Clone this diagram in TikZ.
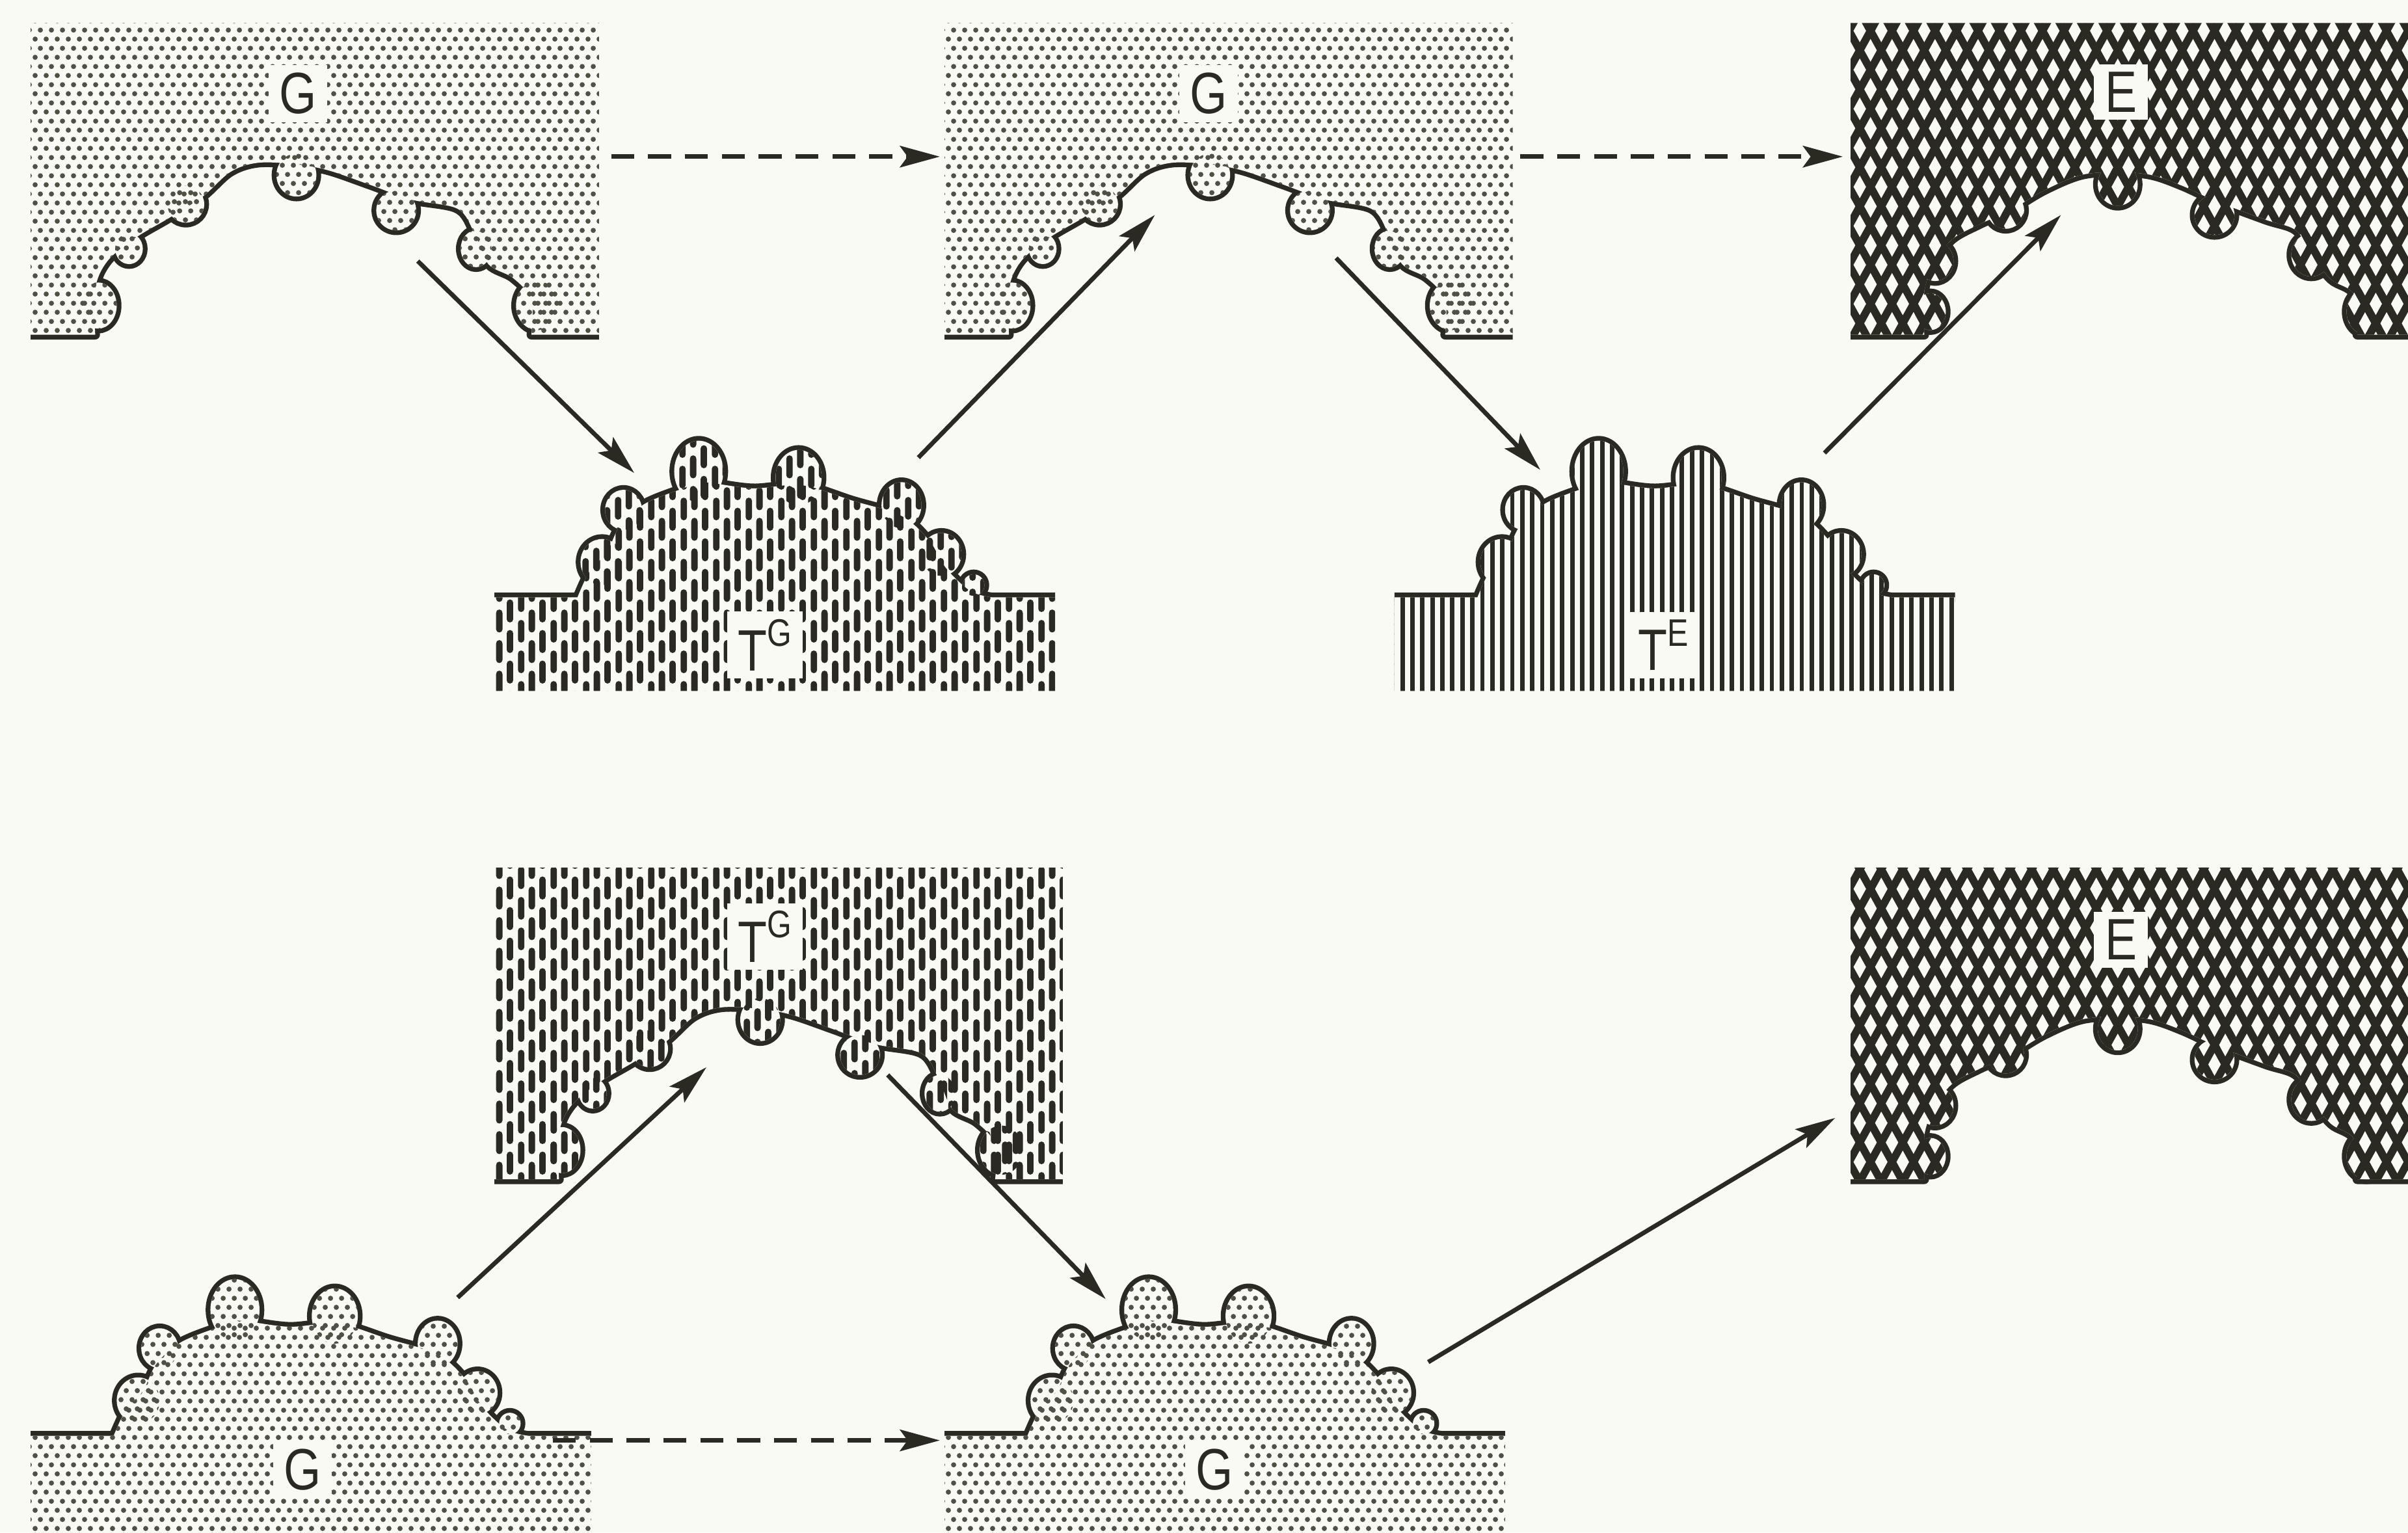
\documentclass[tikz,border=0pt]{standalone}
\usepackage{fontspec}
\setmainfont{Liberation Sans}
\usepackage{graphicx}
\usetikzlibrary{patterns,arrows.meta}
\definecolor{ink}{RGB}{42,42,34}
\definecolor{inkg}{RGB}{80,80,70}
\definecolor{paper}{RGB}{250,250,244}

% light stipple for G
\pgfdeclarepatternformonly{gstip}{\pgfpointorigin}{\pgfpoint{7pt}{12pt}}{\pgfpoint{7pt}{12pt}}{%
  \pgfpathcircle{\pgfpoint{1.75pt}{3pt}}{1.7pt}%
  \pgfpathcircle{\pgfpoint{5.25pt}{9pt}}{1.7pt}%
  \pgfusepath{fill}}
% staggered vertical dashes for T^G
\pgfdeclarepatternformonly{tgdash}{\pgfpointorigin}{\pgfpoint{21pt}{20pt}}{\pgfpoint{21pt}{20pt}}{%
  \pgfsetlinewidth{4.2pt}\pgfsetroundcap
  \pgfpathmoveto{\pgfpoint{3.5pt}{2.1pt}}\pgfpathlineto{\pgfpoint{3.5pt}{12.9pt}}%
  \pgfpathmoveto{\pgfpoint{10.5pt}{8.77pt}}\pgfpathlineto{\pgfpoint{10.5pt}{19.57pt}}%
  \pgfpathmoveto{\pgfpoint{10.5pt}{-11.23pt}}\pgfpathlineto{\pgfpoint{10.5pt}{-0.43pt}}%
  \pgfpathmoveto{\pgfpoint{17.5pt}{15.43pt}}\pgfpathlineto{\pgfpoint{17.5pt}{26.23pt}}%
  \pgfpathmoveto{\pgfpoint{17.5pt}{-4.57pt}}\pgfpathlineto{\pgfpoint{17.5pt}{6.23pt}}%
  \pgfusepath{stroke}}
% vertical lines for T^E
\pgfdeclarepatternformonly{tevl}{\pgfpoint{0pt}{-0.5pt}}{\pgfpoint{6.5pt}{7pt}}{\pgfpoint{6.5pt}{6.5pt}}{%
  \pgfpathrectangle{\pgfpoint{1.8pt}{-0.5pt}}{\pgfpoint{2.9pt}{7.5pt}}%
  \pgfusepath{fill}}
% mesh with diamond holes for E
\pgfdeclarepatternformonly{meshE}{\pgfpoint{-3pt}{-3pt}}{\pgfpoint{17pt}{28.4pt}}{\pgfpoint{14pt}{25.4pt}}{%
  \pgfsetlinewidth{5pt}\pgfsetroundjoin
  \pgfpathmoveto{\pgfpoint{7pt}{0pt}}\pgfpathlineto{\pgfpoint{14pt}{12.7pt}}%
  \pgfpathlineto{\pgfpoint{7pt}{25.4pt}}\pgfpathlineto{\pgfpoint{0pt}{12.7pt}}\pgfpathclose
  \pgfusepath{stroke}}

\newcommand{\labfont}{\fontsize{38}{40}\selectfont}
\newcommand{\supfont}{\fontsize{25}{26}\selectfont}
\newcommand{\nrw}[1]{\scalebox{0.82}[1]{#1}}

\tikzset{
  outl/.style={draw=ink, line width=6.2pt, line join=round},
  pG/.style={pattern=gstip, pattern color=inkg},
  pTG/.style={pattern=tgdash, pattern color=ink},
  pTE/.style={pattern=tevl, pattern color=ink},
  pE/.style={pattern=meshE, pattern color=ink},
  lab/.style={fill=paper, text=ink, inner xsep=7pt, inner ysep=5pt, font=\labfont},
  arr/.style={draw=ink, line width=2.9pt, -{Stealth[length=26pt,width=14pt,inset=5pt]}},
  darr/.style={arr, dash pattern=on 15pt off 9pt},
}

% arch (receptor) shape: #1 shift, #2 pattern style, #3 hole boundary, #4 lobes
\newcommand{\drawArch}[4]{%
\begin{scope}[shift={#1}]
\draw[outl] (20,218) -- plot[smooth,tension=0.55] coordinates {#3} -- (390,218);
\foreach \cx/\cy/\rx/\ry in {#4}{\draw[outl] (\cx,\cy) ellipse[x radius=\rx, y radius=\ry];}
\fill[paper] (390,218) -- (390,15) -- (20,15) -- (20,218) -- plot[smooth,tension=0.55] coordinates {#3} -- cycle;
\foreach \cx/\cy/\rx/\ry in {#4}{\fill[paper] (\cx,\cy) ellipse[x radius=\rx, y radius=\ry];}
\path[#2] (390,218) -- (390,15) -- (20,15) -- (20,218) -- plot[smooth,tension=0.55] coordinates {#3} -- cycle;
\foreach \cx/\cy/\rx/\ry in {#4}{\path[#2] (\cx,\cy) ellipse[x radius=\rx, y radius=\ry];}
\end{scope}}

% mound shape: #1 shift, #2 pattern style, #3 bottom, #4 profile, #5 lobes
\newcommand{\drawMound}[5]{%
\begin{scope}[shift={#1}]
\draw[outl] (322,389) -- plot[smooth,tension=0.55] coordinates {#4} -- (687,389);
\foreach \cx/\cy/\rx/\ry in {#5}{\draw[outl] (\cx,\cy) ellipse[x radius=\rx, y radius=\ry];}
\fill[paper] (322,#3) -- (322,389) -- plot[smooth,tension=0.55] coordinates {#4} -- (687,389) -- (687,#3) -- cycle;
\foreach \cx/\cy/\rx/\ry in {#5}{\fill[paper] (\cx,\cy) ellipse[x radius=\rx, y radius=\ry];}
\path[#2] (322,#3) -- (322,389) -- plot[smooth,tension=0.55] coordinates {#4} -- (687,389) -- (687,#3) -- cycle;
\foreach \cx/\cy/\rx/\ry in {#5}{\path[#2] (\cx,\cy) ellipse[x radius=\rx, y radius=\ry];}
\end{scope}}

\newcommand{\archG}[2]{\drawArch{#1}{#2}%
{(62,218) (62,188) (70,170) (88,155) (110,142) (132,128) (150,112) (168,106) (193,107) (214,111) (240,120) (268,130) (298,136) (309,152) (318,172) (334,181) (346,195) (346,218)}%
{64/199/12/15, 84/162/9/10, 121/133/12/12, 193/114/13/14, 258/137/13/13, 310/162/10/12, 350/199/14/16}}

\newcommand{\archE}[2]{\drawArch{#1}{#2}%
{(68,218) (68,190) (74,172) (86,156) (104,146) (124,137) (146,124) (170,114) (194,112) (216,114) (236,121) (258,131) (290,143) (310,150) (320,166) (333,182) (348,192) (350,218)}%
{72/203/10/12, 75/170/12/13, 121/137/12/12, 194/120/13/14, 257/140/13/13, 320/166/13/14, 356/203/13/15}}

\newcommand{\moundS}[3]{\drawMound{#1}{#2}{#3}%
{(376,389) (384,372) (395,360) (404,342) (420,328) (445,318) (457,314) (490,318) (522,316) (555,326) (587,336) (605,352) (616,370) (632,385) (646,389)}%
{392/366/14/15, 406/332/12/13, 455/307/16/20, 520/311/15/18, 587/329/13/15, 613/361/13/14, 634/381/7/7}}

\begin{document}
\begin{tikzpicture}[x=1pt,y=-1pt]
\useasboundingbox (0,0) rectangle (1568,998);
\fill[paper] (0,0) rectangle (1568,998);
\begin{scope}
\clip (0,0) rectangle (1568,998);
% top row
\archG{(0,0)}{pG}
\archG{(595,0)}{pG}
\archE{(1185,0)}{pE}
\moundS{(0,0)}{pTG}{450}
\moundS{(586,0)}{pTE}{450}
% bottom row
\archG{(302,550)}{pTG}
\archE{(1185,550)}{pE}
\moundS{(-302,546)}{pG}{470}
\moundS{(293,546)}{pG}{470}
\end{scope}

% labels
\node[lab] (lgA) at (194,61) {\nrw{G}};
\node[lab] (lgB) at (787,61) {\nrw{G}};
\node[lab] (leA) at (1381,60) {\nrw{E}};
\node[lab] (ltgA) at (498,420) {\nrw{T\raisebox{0.42em}{\supfont G}}};
\node[lab] (lteA) at (1083,420) {\nrw{T\raisebox{0.42em}{\supfont E}}};
\node[lab] (ltgB) at (498,610) {\nrw{T\raisebox{0.42em}{\supfont G}}};
\node[lab] (leB) at (1381,612) {\nrw{E}};
\node[lab] (lgC) at (197,957) {\nrw{G}};
\node[lab] (lgD) at (791,957) {\nrw{G}};

% arrow end points
\coordinate (d1s) at (398,102); \coordinate (d1e) at (612,102);
\coordinate (d2s) at (990,102); \coordinate (d2e) at (1200,102);
\coordinate (d3s) at (360,938); \coordinate (d3e) at (612,938);
\coordinate (a1s) at (272,170); \coordinate (a1e) at (413,308);
\coordinate (a2s) at (598,298); \coordinate (a2e) at (752,140);
\coordinate (a3s) at (870,168); \coordinate (a3e) at (1003,306);
\coordinate (a4s) at (1188,295); \coordinate (a4e) at (1342,140);
\coordinate (a5s) at (298,845); \coordinate (a5e) at (460,695);
\coordinate (a6s) at (578,700); \coordinate (a6e) at (720,846);
\coordinate (a7s) at (930,887); \coordinate (a7e) at (1195,728);

\draw[darr] (d1s) -- (d1e);
\draw[darr] (d2s) -- (d2e);
\draw[darr] (d3s) -- (d3e);
\draw[arr] (a1s) -- (a1e);
\draw[arr] (a2s) -- (a2e);
\draw[arr] (a3s) -- (a3e);
\draw[arr] (a4s) -- (a4e);
\draw[arr] (a5s) -- (a5e);
\draw[arr] (a6s) -- (a6e);
\draw[arr] (a7s) -- (a7e);
\end{tikzpicture}
\end{document}
